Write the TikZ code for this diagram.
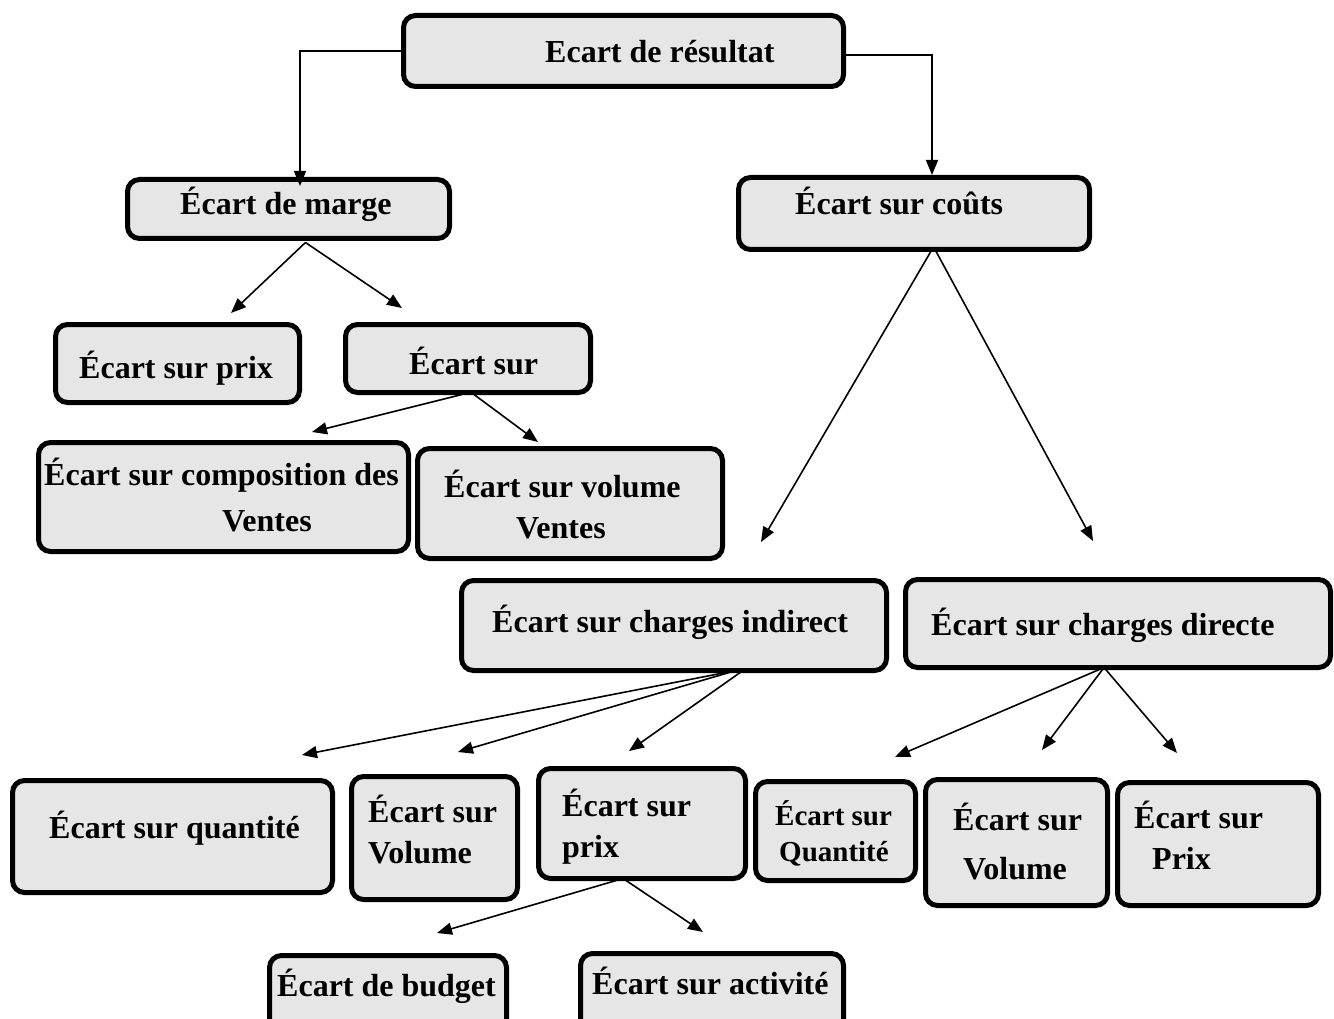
\documentclass[tikz,border=0pt]{standalone}
\usepackage{fontspec}
\setmainfont{Liberation Serif}
\usetikzlibrary{arrows.meta,calc}

\definecolor{boxgray}{HTML}{E6E6E6}

\tikzset{
  box/.style={draw=black, line width=5pt, fill=boxgray, rounded corners=12pt, inner sep=0pt, outer sep=0pt},
  lbl/.style={anchor=base west, inner sep=0pt, font=\bfseries\fontsize{32}{38}\selectfont},
  lblsm/.style={lbl, font=\bfseries\fontsize{29}{34}\selectfont},
  arr/.style={-{Triangle[length=15pt,width=12pt]}, line width=1.6pt}
}

% rounded box given by its outer left, top, right, bottom edges
\newcommand\drawbox[5]{%
  \node[box, minimum width={(#3-#1-5)*1pt}, minimum height={(#4-#2-5)*1pt}]
    (#5) at ({(#1+#3)/2},{(#2+#4)/2}) {};}

\begin{document}
\begin{tikzpicture}[x=1pt,y=-1pt]
\useasboundingbox (0,0) rectangle (1334,1019);
\clip (0,0) rectangle (1334,1019);
\fill[white] (0,0) rectangle (1334,1019);

% boxes
\drawbox{401}{13}{846}{89}{res}
\drawbox{125}{177}{452}{241}{marge}
\drawbox{736}{175}{1092}{252}{couts}
\drawbox{53}{322}{302}{405}{mprix}
\drawbox{343}{322}{593}{395}{msur}
\drawbox{36}{440}{411}{554}{comp}
\drawbox{415}{446}{725}{561}{vol}
\drawbox{459}{578}{889}{673}{indir}
\drawbox{903}{577}{1333}{670}{dir}
\drawbox{10}{778}{335}{895}{iqte}
\drawbox{349}{774}{520}{902}{ivol}
\drawbox{536}{766}{748}{881}{iprix}
\drawbox{753}{779}{918}{883}{dqte}
\drawbox{923}{777}{1110}{908}{dvol}
\drawbox{1115}{780}{1321}{908}{dprix}
\drawbox{267}{953}{509}{1034}{budget}
\drawbox{578}{951}{846}{1034}{activ}

% labels
\node[lbl] (t1) at (545,63) {Ecart de résultat};
\node[lbl] (t2) at (180,215) {Écart de marge};
\node[lbl] (t3) at (795,215) {Écart sur coûts};
\node[lbl] (t4) at (79,378) {Écart sur prix};
\node[lbl] (t5) at (409,374) {Écart sur};
\node[lbl] (t6a) at (44,485) {Écart sur composition des};
\node[lbl] (t6b) at (222,531) {Ventes};
\node[lbl] (t7a) at (444,497) {Écart sur volume};
\node[lbl] (t7b) at (516,538) {Ventes};
\node[lbl] (t8) at (492,632) {Écart sur charges indirect};
\node[lbl] (t9) at (931,635) {Écart sur charges directe};
\node[lbl] (t10) at (49,838) {Écart sur quantité};
\node[lbl] (t11a) at (368,822) {Écart sur};
\node[lbl] (t11b) at (368,863) {Volume};
\node[lbl] (t12a) at (562,816) {Écart sur};
\node[lbl] (t12b) at (562,857) {prix};
\node[lblsm] (t13a) at (775,825) {Écart sur};
\node[lblsm] (t13b) at (779,861) {Quantité};
\node[lbl] (t14a) at (953,830) {Écart sur};
\node[lbl] (t14b) at (963,879) {Volume};
\node[lbl] (t15a) at (1134,828) {Écart sur};
\node[lbl] (t15b) at (1152,869) {Prix};
\node[lbl] (t16) at (277,996) {Écart de budget};
\node[lbl] (t17) at (592,994) {Écart sur activité};

% free arrow ends
\coordinate (tm) at (300,186);
\coordinate (tc) at (932,175);
\coordinate (e1) at (231,313);
\coordinate (e2) at (402,308);
\coordinate (e3) at (312,432);
\coordinate (e4) at (538,442);
\coordinate (e5) at (761,542);
\coordinate (e6) at (1093,541);
\coordinate (e7) at (302,755);
\coordinate (e8) at (458,752);
\coordinate (e9) at (629,751);
\coordinate (e10) at (895,757);
\coordinate (e11) at (1042,750);
\coordinate (e12) at (1177,753);
\coordinate (e13) at (437,933);
\coordinate (e14) at (703,932);

% connectors
\draw[arr] (res.west) -| (tm);
\draw[arr] ([yshift=-4pt]res.east) -| (tc);
\draw[arr] ([xshift=17pt,yshift=-4pt]marge.south) -- (e1);
\draw[arr] ([xshift=17pt,yshift=-4pt]marge.south) -- (e2);
\draw[arr] ([xshift=-6pt,yshift=-2pt]msur.south) -- (e3);
\draw[arr] ([xshift=6pt,yshift=-2pt]msur.south) -- (e4);
\draw[arr] ([xshift=18pt]couts.south) -- (e5);
\draw[arr] ([xshift=21pt]couts.south) -- (e6);
\draw[arr] ([xshift=62pt]indir.south) -- (e7);
\draw[arr] ([xshift=62pt]indir.south) -- (e8);
\draw[arr] ([xshift=69pt]indir.south) -- (e9);
\draw[arr] ([xshift=-14pt]dir.south) -- (e10);
\draw[arr] ([xshift=-14pt]dir.south) -- (e11);
\draw[arr] ([xshift=-14pt]dir.south) -- (e12);
\draw[arr] ([xshift=-19pt]iprix.south) -- (e13);
\draw[arr] ([xshift=-19pt]iprix.south) -- (e14);
\end{tikzpicture}
\end{document}
